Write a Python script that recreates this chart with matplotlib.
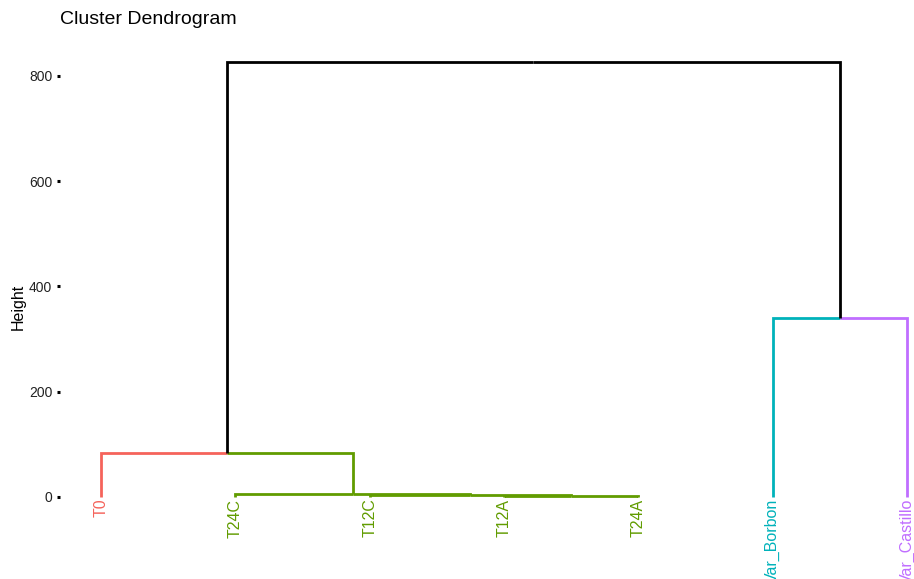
import matplotlib
matplotlib.use("Agg")
import matplotlib.pyplot as plt

plt.rcParams['font.family'] = ['Liberation Sans', 'DejaVu Sans']

# Leaves in display order
labels = ["T0", "T24C", "T12C", "T12A", "T24A", "Var_Borbon", "Var_Castillo"]
# Cluster of each leaf (k = 4)
leaf_cluster = [0, 1, 1, 1, 1, 2, 3]
cluster_colors = ["#F5635B", "#619C00", "#00B2BA", "#C06EFF"]

# Agglomeration steps: negative = leaf (1-based), positive = earlier step (1-based)
merge_left = [-4, -3, -2, -1, -6, 4]
merge_right = [-5, 1, 2, 3, -7, 5]
merge_height = [1, 4, 6, 83, 340, 827]

y_ticks = [0, 200, 400, 600, 800]

W, H = 914, 579
fig = plt.figure(figsize=(W / 100, H / 100), dpi=100)
left_px, top_px = 60, 40
ax = fig.add_axes([left_px / W, 0, (W - left_px) / W, (H - top_px) / H])

# positions / heights / clusters of every node
node_x = {}
node_h = {}
node_cl = {}
for i, lab in enumerate(labels):
    node_x[-(i + 1)] = i + 1
    node_h[-(i + 1)] = 0.0
    node_cl[-(i + 1)] = leaf_cluster[i]

lw = 2.0
for s, (a, b, h) in enumerate(zip(merge_left, merge_right, merge_height), start=1):
    x = (node_x[a] + node_x[b]) / 2
    node_x[s] = x
    node_h[s] = h
    ca, cb = node_cl[a], node_cl[b]
    node_cl[s] = ca if ca == cb else None
    for c in (a, b):
        col = cluster_colors[node_cl[c]] if node_cl[c] is not None else "black"
        ax.plot([node_x[c], node_x[c], x], [node_h[c], h, h], color=col,
                lw=lw, solid_capstyle="butt", solid_joinstyle="miter")

for i, lab in enumerate(labels):
    ax.text(i + 1, -3, lab, rotation=90, ha="center", va="top",
            fontsize=11.5, color=cluster_colors[leaf_cluster[i]], clip_on=False)

px_per_unit = 421 / 800
ax.set_ylim(-(H - 497) / px_per_unit, (497 - top_px) / px_per_unit)
step = 134.33
ax.set_xlim(1 - (101 - left_px) / step, 7 + (W - 907) / step)

ax.set_yticks(y_ticks)
ax.set_yticklabels([str(v) for v in y_ticks])
ax.set_xticks([])
ax.tick_params(axis="y", length=2.5, width=2.2, color="black", labelsize=10,
               pad=3, labelcolor="#222222")
for sp in ax.spines.values():
    sp.set_visible(False)

fig.text(18 / W, 1 - 307 / H, "Height", rotation=90, ha="center", va="center",
         fontsize=11.5)
fig.text(60 / W, 1 - 19 / H, "Cluster Dendrogram", ha="left", va="center",
         fontsize=14)

fig.savefig("out.png", dpi=100)
